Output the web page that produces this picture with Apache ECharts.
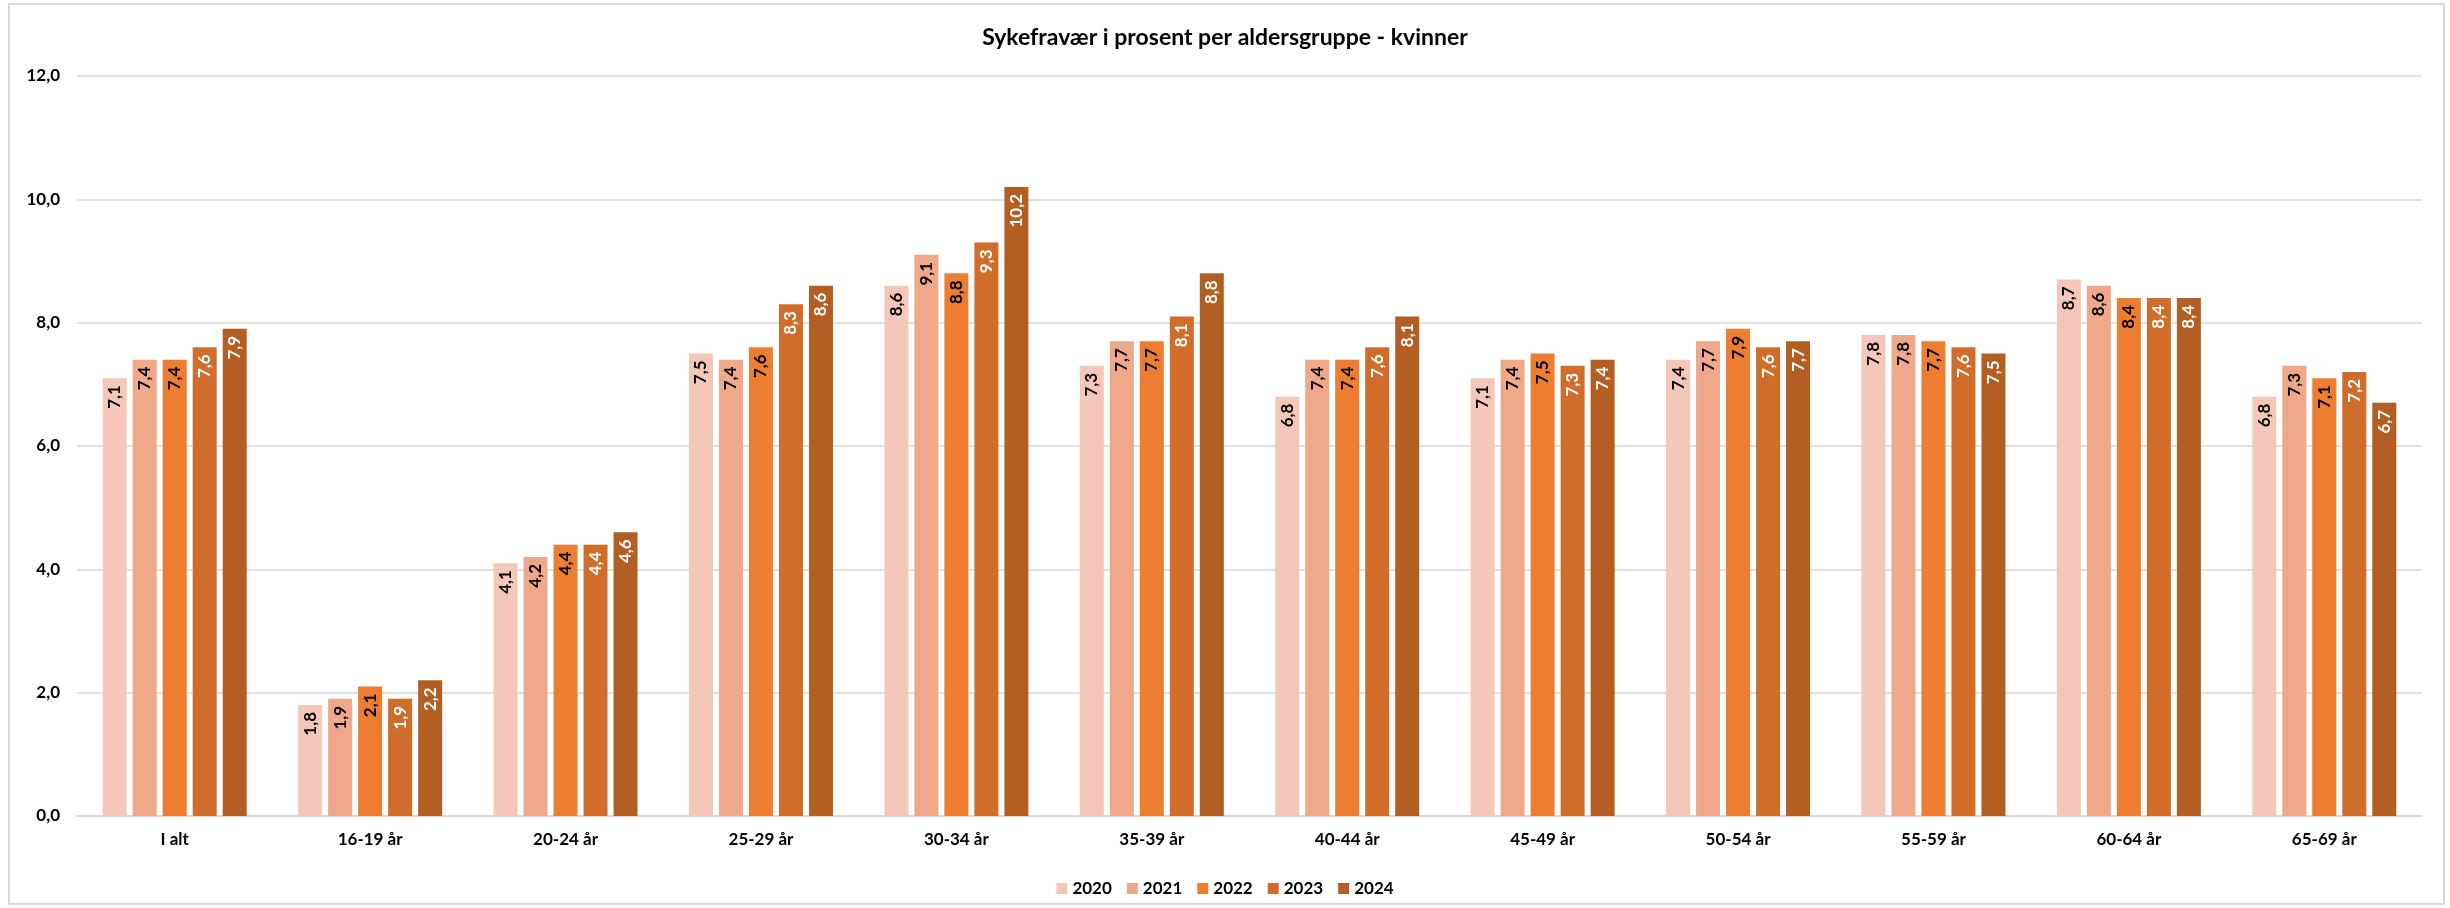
<!DOCTYPE html>
<html>
<head>
<meta charset="utf-8">
<script src="https://cdn.jsdelivr.net/npm/echarts@6/dist/echarts.min.js"></script>
<style>
html,body{margin:0;padding:0;background:#fff;}
#c{width:2450px;height:908px;}
</style>
</head>
<body>
<div id="c"></div>
<script>
const categories = ['I alt','16-19 år','20-24 år','25-29 år','30-34 år','35-39 år','40-44 år','45-49 år','50-54 år','55-59 år','60-64 år','65-69 år'];
const years = ['2020','2021','2022','2023','2024'];
const v2020 = [7.1,1.8,4.1,7.5,8.6,7.3,6.8,7.1,7.4,7.8,8.7,6.8];
const v2021 = [7.4,1.9,4.2,7.4,9.1,7.7,7.4,7.4,7.7,7.8,8.6,7.3];
const v2022 = [7.4,2.1,4.4,7.6,8.8,7.7,7.4,7.5,7.9,7.7,8.4,7.1];
const v2023 = [7.6,1.9,4.4,8.3,9.3,8.1,7.6,7.3,7.6,7.6,8.4,7.2];
const v2024 = [7.9,2.2,4.6,8.6,10.2,8.8,8.1,7.4,7.7,7.5,8.4,6.7];
const seriesValues = [v2020,v2021,v2022,v2023,v2024];
const colors = ['#F5C7B8','#F0A88A','#ED7D31','#D16D2A','#B35E22'];
const labelColors = ['#000000','#000000','#000000','#ffffff','#ffffff'];

const FONT = 'Lato, "Noto Sans", sans-serif';
const chart = echarts.init(document.getElementById('c'));
chart.setOption({
  animation: false,
  backgroundColor: '#ffffff',
  title: {
    text: 'Sykefravær i prosent per aldersgruppe - kvinner',
    left: 'center',
    top: 21,
    textStyle: {fontFamily: FONT, fontSize: 23, fontWeight: 'bold', color: '#000'}
  },
  graphic: [{
    type: 'rect',
    shape: {x: 9, y: 4, width: 2435, height: 900},
    style: {fill: 'none', stroke: '#d9d9d9', lineWidth: 2},
    silent: true
  }],
  legend: {
    data: years,
    top: 875,
    left: 'center',
    icon: 'rect',
    itemWidth: 11,
    itemHeight: 11,
    itemGap: 15,
    textStyle: {fontFamily: FONT, fontSize: 17, fontWeight: 'bold', color: '#000'}
  },
  grid: {left: 77, right: 28, top: 76, bottom: 92, containLabel: false},
  xAxis: {
    type: 'category',
    data: categories,
    axisLine: {lineStyle: {color: '#d9d9d9', width: 1.5}},
    axisTick: {show: false},
    axisLabel: {fontFamily: FONT, fontSize: 17, fontWeight: 'bold', color: '#000', margin: 15}
  },
  yAxis: {
    type: 'value',
    min: 0, max: 12, interval: 2,
    axisLine: {show: false},
    axisTick: {show: false},
    splitLine: {lineStyle: {color: '#d9d9d9', width: 1.5}},
    axisLabel: {
      fontFamily: FONT, fontSize: 17, fontWeight: 'bold', color: '#000', margin: 17,
      formatter: v => v.toFixed(1).replace('.', ',')
    }
  },
  series: years.map((y, i) => ({
    name: y,
    type: 'bar',
    data: seriesValues[i],
    barWidth: 24,
    barGap: '25%',
    itemStyle: {color: colors[i]},
    label: {
      show: true,
      position: 'insideTop',
      rotate: 90,
      align: 'right',
      verticalAlign: 'middle',
      distance: 7,
      fontFamily: FONT,
      fontSize: 17,
      fontWeight: 'bold',
      color: labelColors[i],
      formatter: p => p.value.toFixed(1).replace('.', ',')
    }
  }))
});
</script>
</body>
</html>
